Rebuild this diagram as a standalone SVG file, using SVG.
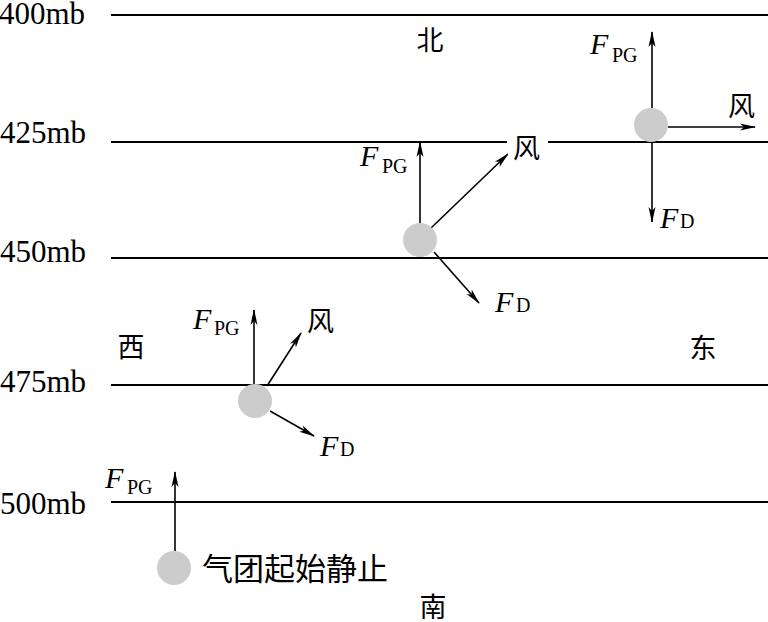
<svg xmlns="http://www.w3.org/2000/svg" width="768" height="622" viewBox="0 0 768 622">
<style>
.lvl{stroke:#000;stroke-width:2;fill:none}
.lbl{font-family:"Liberation Serif","Times New Roman",serif;font-size:31px;fill:#000}
.f{font-family:"Liberation Serif",serif;font-size:30px;font-style:italic;fill:#000}
.sub{font-family:"Liberation Serif",serif;font-size:20px;fill:#000}
.cjk{font-family:"Liberation Serif","Noto Sans CJK SC",sans-serif;font-size:27px;fill:#000}
.arr{stroke:#000;stroke-width:1.6;fill:none;marker-end:url(#ah)}
.parcel{fill:#cccccc}
</style>
<defs>
<marker id="ah" markerUnits="userSpaceOnUse" markerWidth="16" markerHeight="8" refX="15" refY="4" orient="auto">
<path d="M0,0.5 L16,4 L0,7.5 L4,4 z" fill="#000"/>
</marker>
</defs>
<rect width="768" height="622" fill="#fff"/>
<g id="levels">
<line class="lvl" x1="111" y1="15" x2="768" y2="15"/>
<line class="lvl" x1="111" y1="142" x2="507" y2="142"/>
<line class="lvl" x1="548" y1="142" x2="768" y2="142"/>
<line class="lvl" x1="111" y1="258" x2="768" y2="258"/>
<line class="lvl" x1="111" y1="385" x2="768" y2="385"/>
<line class="lvl" x1="111" y1="502" x2="768" y2="502"/>
<text class="lbl" x="-1" y="24">400mb</text>
<text class="lbl" x="0" y="143">425mb</text>
<text class="lbl" x="0" y="262">450mb</text>
<text class="lbl" x="0" y="392">475mb</text>
<text class="lbl" x="0" y="514">500mb</text>
</g>
<g id="directions">
<text class="cjk" x="430" y="50" text-anchor="middle">北</text>
<text class="cjk" x="131" y="357" text-anchor="middle">西</text>
<text class="cjk" x="703" y="358" text-anchor="middle">东</text>
<text class="cjk" x="433" y="617" text-anchor="middle">南</text>
</g>
<g id="connectors">
<line class="arr" x1="652" y1="108" x2="652" y2="32"/>
<line class="arr" x1="668" y1="127" x2="755" y2="127"/>
<line class="arr" x1="652" y1="142" x2="652" y2="222"/>
<line class="arr" x1="420" y1="223" x2="420" y2="142"/>
<line class="arr" x1="431" y1="228" x2="508" y2="154"/>
<line class="arr" x1="434" y1="252" x2="479" y2="303"/>
<line class="arr" x1="254" y1="385" x2="254" y2="310"/>
<line class="arr" x1="267" y1="386" x2="301" y2="333"/>
<line class="arr" x1="270" y1="411" x2="314" y2="436"/>
<line class="arr" x1="175" y1="551" x2="175" y2="472"/>
</g>
<g id="parcel-425">
<circle class="parcel" cx="651" cy="125" r="17"/>
<text class="f" x="590" y="54">F</text><text class="sub" x="612" y="62">PG</text>
<text class="cjk" x="728" y="116">风</text>
<text class="f" x="660" y="228">F</text><text class="sub" x="680" y="228">D</text>
</g>
<g id="parcel-450">
<circle class="parcel" cx="420" cy="240" r="17"/>
<text class="f" x="360" y="166">F</text><text class="sub" x="382" y="173">PG</text>
<rect x="508" y="130" width="40" height="30" fill="#fff"/>
<text class="cjk" x="513" y="158">风</text>
<text class="f" x="495" y="312">F</text><text class="sub" x="516" y="312">D</text>
</g>
<g id="parcel-475">
<circle class="parcel" cx="255" cy="401" r="17"/>
<text class="f" x="193" y="329">F</text><text class="sub" x="214" y="335">PG</text>
<text class="cjk" x="307" y="331">风</text>
<text class="f" x="320" y="456">F</text><text class="sub" x="340" y="456">D</text>
</g>
<g id="parcel-500">
<circle class="parcel" cx="174" cy="568" r="17"/>
<text class="f" x="105" y="488">F</text><text class="sub" x="127" y="494">PG</text>
<text class="cjk" x="202" y="580" style="font-size:31px">气团起始静止</text>
</g>
</svg>
